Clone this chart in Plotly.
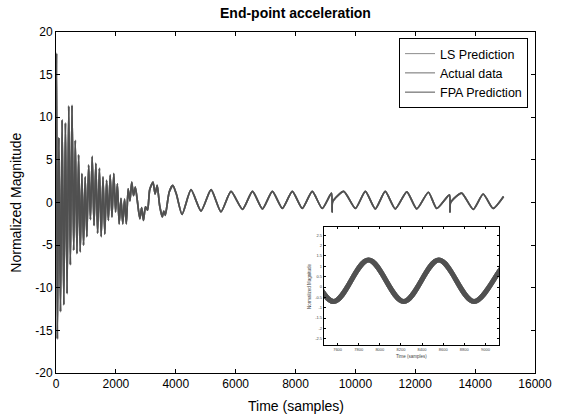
import plotly.graph_objects as go

# ---------------- data ----------------
# time stamps (samples) of the signal's turning points
time_samples = [
    0, 15, 45, 95, 150, 205, 260, 315, 370, 425, 480, 535, 590, 645, 700, 755,
    810, 865, 920, 975, 1030, 1090, 1150, 1210, 1270, 1330, 1390, 1450, 1510,
    1570, 1630, 1690, 1750, 1810, 1870, 1930, 1990, 2050, 2110, 2170, 2230,
    2290, 2350, 2410, 2470, 2530, 2590, 2650, 2720, 2800, 2860, 2920, 2990,
    3060, 3130, 3240, 3310, 3380, 3460, 3550, 3600, 3650, 3780, 3900, 4020,
    4210, 4510, 4845, 5180, 5510, 5845, 6231, 6563, 6896, 7228, 7561, 7893,
    8226, 8559, 8892, 9200, 9225, 9240, 9612, 10000, 10333, 10666, 10998,
    11331, 11718, 12051, 12439, 12717, 13140, 13160, 13180, 13548, 13936,
    14269, 14601, 14950,
]
actual_data = [
    3.0, 17.5, -16.0, 7.6, -12.8, 9.7, -12.0, 9.3, -10.7, 11.3, -7.3, 11.4,
    -5.6, 7.3, -6.0, 5.6, -5.8, 3.4, -5.0, 3.0, -4.0, 4.4, -2.0, 5.4, -2.7,
    4.6, -3.6, 4.0, -4.0, 3.0, -3.7, 2.6, -2.1, 3.2, -1.7, 3.4, -1.1, 2.2,
    -2.5, 0.5, -2.5, 0.4, -2.5, 1.6, 0.2, 2.4, 0.8, 1.8, 0.1, -1.9, -0.6,
    -2.1, -0.5, -0.9, 1.5, 2.4, 1.0, 2.0, -0.3, -1.7, -1.0, -1.5, 1.2, 2.0,
    1.0, -1.4, 1.5, -1.0, 1.5, -1.1, 1.3, -0.8, 1.3, -0.75, 1.3, -0.7, 1.3,
    -0.7, 1.3, -0.7, 1.1, -1.1, 0.1, 1.3, -0.7, 1.3, -0.75, 1.3, -0.75, 1.25,
    -0.75, 1.2, -0.7, 0.9, -1.1, 0.0, 1.1, -0.8, 1.0, -0.7, 0.7,
]
# the two predictions lie on top of the measured data
ls_prediction = list(actual_data)
fpa_prediction = list(actual_data)

series_names = ["LS Prediction", "Actual data", "FPA Prediction"]
series_values = [ls_prediction, actual_data, fpa_prediction]
series_colors = ["#8c8c8c", "#6e6e6e", "#505050"]

x_ticks = [0, 2000, 4000, 6000, 8000, 10000, 12000, 14000, 16000]
y_ticks = [-20, -15, -10, -5, 0, 5, 10, 15, 20]
inset_x_ticks = [7600, 7800, 8000, 8200, 8400, 8600, 8800, 9000]
inset_y_ticks = [-2.5, -2, -1.5, -1, -0.5, 0, 0.5, 1, 1.5, 2, 2.5]

# ---------------- layout geometry ----------------
W, H = 564, 418
L, R, T, B = 56, 27, 32, 45
PW, PH = W - L - R, H - T - B


def fx(px):
    return (px - L) / PW


def fy(py):
    return (H - B - py) / PH


FONT = "Liberation Sans, Arial, sans-serif"

fig = go.Figure()

# main traces
for name, vals, col in zip(series_names, series_values, series_colors):
    fig.add_trace(go.Scatter(
        x=time_samples, y=vals, mode="lines", name=name, legendgroup=name,
        showlegend=False,
        line=dict(color=col, width=1.7, shape="spline", smoothing=0.6),
        xaxis="x", yaxis="y"))

# inset traces
for name, vals, col in zip(series_names, series_values, series_colors):
    fig.add_trace(go.Scatter(
        x=time_samples, y=vals, mode="lines", name=name, legendgroup=name,
        showlegend=False, line=dict(color=col, width=5, shape="spline",
                                    smoothing=1.0),
        xaxis="x2", yaxis="y2"))

# legend entries
for name, col in zip(series_names, series_colors):
    fig.add_trace(go.Scatter(
        x=[None], y=[None], mode="lines", name=name, legendgroup=name,
        line=dict(color=col, width=1), xaxis="x", yaxis="y"))

axis_common = dict(showline=True, linecolor="black", linewidth=1, mirror="ticks",
                   ticks="inside", tickcolor="black", showgrid=False,
                   zeroline=False)

fig.update_layout(
    width=W, height=H,
    margin=dict(l=L, r=R, t=T, b=B, pad=0),
    paper_bgcolor="white", plot_bgcolor="white",
    font=dict(family=FONT, color="black"),
    showlegend=True,
    hovermode=False,
    legend=dict(x=fx(530), xanchor="right", y=fy(38), yanchor="top",
                bgcolor="white", bordercolor="black", borderwidth=1,
                font=dict(size=12.5, family=FONT), itemwidth=30,
                tracegroupgap=0),
    xaxis=dict(domain=[0, 1], range=[0, 16000], tickvals=x_ticks,
               ticktext=[str(v) for v in x_ticks], ticklen=4,
               tickfont=dict(size=12), anchor="y", **axis_common),
    yaxis=dict(domain=[0, 1], range=[-20, 20], tickvals=y_ticks,
               ticktext=[str(v) for v in y_ticks], ticklen=4,
               tickfont=dict(size=12), anchor="x", **axis_common),
    xaxis2=dict(domain=[fx(325), fx(501)], range=[7470, 9130],
                tickvals=inset_x_ticks, ticktext=[str(v) for v in inset_x_ticks],
                ticklen=2, tickfont=dict(size=4, color="#444"), anchor="y2",
                **axis_common),
    yaxis2=dict(domain=[fy(345), fy(227)], range=[-2.8, 2.9],
                tickvals=inset_y_ticks, ticktext=[f"{v:g}" for v in inset_y_ticks],
                ticklen=2, tickfont=dict(size=4, color="#444"), anchor="x2",
                **axis_common),
)

annotations = [
    dict(text="<b>End-point acceleration</b>", x=0.5, y=fy(13), xref="paper",
         yref="paper", showarrow=False, font=dict(size=14, family=FONT),
         xanchor="center", yanchor="middle"),
    dict(text="Time (samples)", x=0.5, y=fy(406), xref="paper", yref="paper",
         showarrow=False, font=dict(size=14, family=FONT), xanchor="center",
         yanchor="middle", borderpad=0),
    dict(text="Normalized Magnitude", x=fx(15), y=0.5, xref="paper",
         yref="paper", showarrow=False, textangle=-90,
         font=dict(size=14, family=FONT), xanchor="center", yanchor="middle"),
    dict(text="Time (samples)", x=(fx(325) + fx(501)) / 2, y=fy(356),
         xref="paper", yref="paper", showarrow=False,
         font=dict(size=4.5, family=FONT, color="#444"), xanchor="center",
         yanchor="middle"),
    dict(text="Normalized Magnitude", x=fx(310), y=(fy(345) + fy(227)) / 2,
         xref="paper", yref="paper", showarrow=False, textangle=-90,
         font=dict(size=4.5, family=FONT, color="#444"), xanchor="center",
         yanchor="middle"),
]
fig.update_layout(annotations=annotations)

fig.write_html(
    "out.html",
    config={"displayModeBar": False, "staticPlot": True},
    post_script="document.body.style.margin='0';document.body.style.padding='0';",
)
